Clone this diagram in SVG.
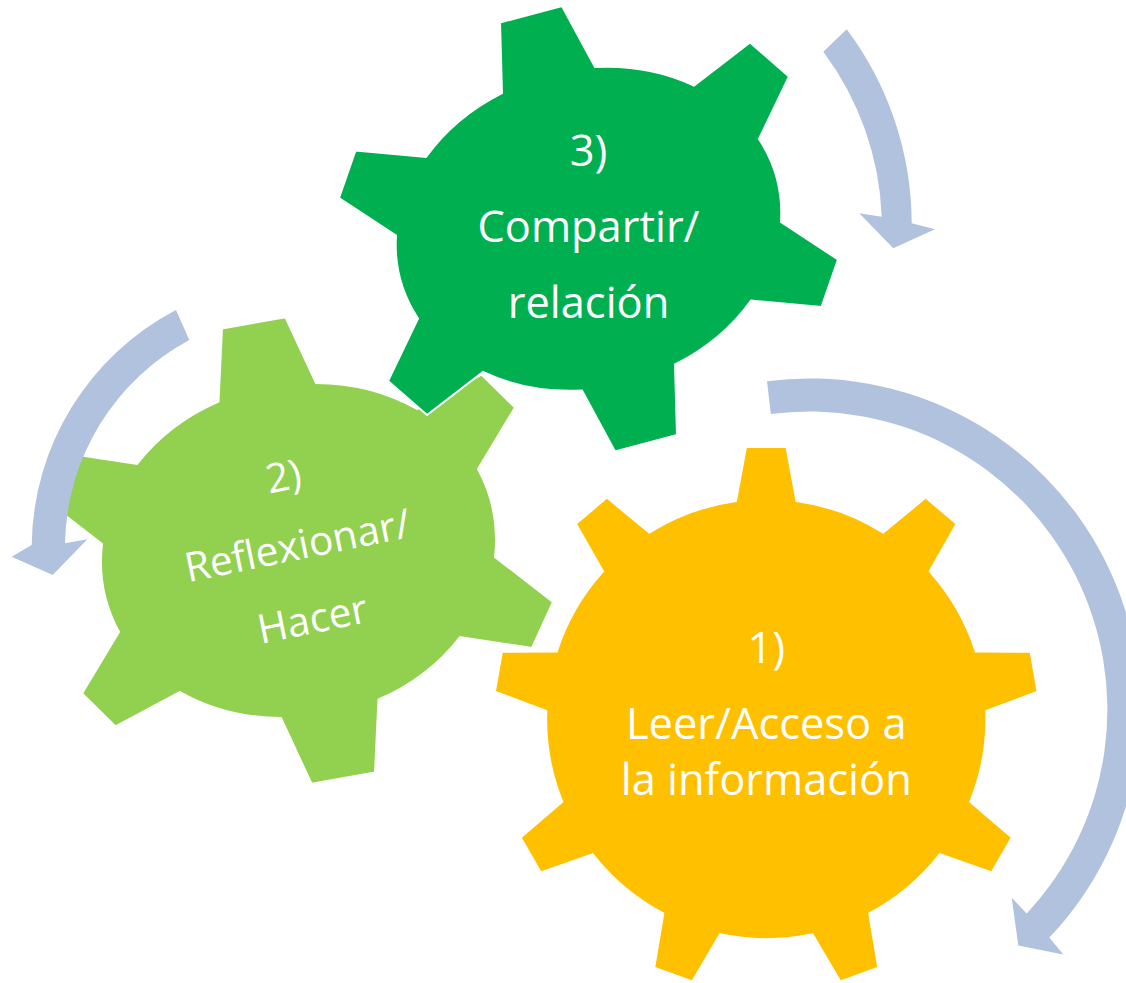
<svg xmlns="http://www.w3.org/2000/svg" width="1126" height="983" viewBox="0 0 1126 983">
<style>
.gear{stroke:#FFFFFF;stroke-width:2;stroke-linejoin:miter}
.g1{fill:#FFC000}
.g2{fill:#92D050}
.g3{fill:#00B050}
.arrow{fill:#B1C2DE;stroke:none}
.t{font-family:"Open Sans","Liberation Sans",sans-serif;fill:#FFFFFF;text-anchor:middle;font-size:43.4px}
.t2{font-size:40.6px}
</style>
<rect width="1126" height="983" fill="#FFFFFF"/>
<g id="gear1">
<path class="gear g1" d="M736,501 L746,447 L786.5,447 L796.5,501 A220,220 0 0 1 883.2,532.6 L925.6,497.6 L956.6,523.7 L929.6,571.4 A220,220 0 0 1 975.7,651.4 L1030.6,651.8 L1037.6,691.7 L986.2,710.9 A220,220 0 0 1 970.2,801.8 L1011.9,837.5 L991.7,872.5 L939.9,854.2 A220,220 0 0 1 869.2,913.5 L878.3,967.7 L840.3,981.5 L812.4,934.2 A220,220 0 0 1 720.1,934.2 L692.3,981.5 L654.2,967.7 L663.3,913.5 A220,220 0 0 1 592.6,854.2 L540.8,872.5 L520.6,837.5 L562.3,801.8 A220,220 0 0 1 546.3,710.9 L494.9,691.7 L501.9,651.8 L556.8,651.4 A220,220 0 0 1 603,571.4 L575.9,523.7 L606.9,497.6 L649.3,532.6 A220,220 0 0 1 736,501 Z"/>
<text class="t" x="766.25" y="663.3">1)</text>
<text class="t" x="766.25" y="739.3">Leer/Acceso a</text>
<text class="t" x="766.25" y="795">la información</text>
</g>
<g id="gear2">
<path class="gear g2" d="M218.5,401.5 L222,328.5 L285.5,317.25 L316,383 A197,170 -11 0 1 417,409 L481.5,374.5 L515,407.5 L478,469 A197,170 -11 0 1 495,557 L553,602 L532,648 L460,637 A197,170 -11 0 1 378.5,699.5 L375,772.5 L311.5,783.75 L281,718 A197,170 -11 0 1 180,692 L115.5,726.5 L82,693.5 L119,632 A197,170 -11 0 1 102,544 L44,499 L65,453 L137,464 A197,170 -11 0 1 218.5,401.5 Z"/>
<g transform="translate(298.5,550.5) rotate(-11.5)">
<text class="t t2" x="0" y="-61.5">2)</text>
<text class="t t2" x="0" y="9">Reflexionar/</text>
<text class="t t2" x="0" y="84">Hacer</text>
</g>
</g>
<g id="gear3">
<path class="gear g3" d="M502,93 L500,22.5 L562,6 L595,67 A195,161 -15 0 1 694,85.5 L750,42.5 L789,76.5 L759,139 A195,161 -15 0 1 781,222 L838,259.5 L821.5,307 L751,300.5 A195,161 -15 0 1 675,364.5 L677,435 L615,451.5 L582,390.5 A195,161 -15 0 1 483,372 L427,415 L388,381 L418,318.5 A195,161 -15 0 1 396,235.5 L339,198 L355.5,150.5 L426,157 A195,161 -15 0 1 502,93 Z"/>
<text class="t" x="588.5" y="165.7">3)</text>
<text class="t" x="588.5" y="241.7">Compartir/</text>
<text class="t" x="588.5" y="318.3">relación</text>
</g>
<g id="connectors">
<path id="arrow1" class="arrow" d="M767,381.2 A331,331 0 0 1 1049.3,937.6 L1063.3,954.4 L1018.3,945.4 L1011.7,897.7 L1026.7,913.4 A298,298 0 0 0 770.8,414 Z"/>
<path id="arrow3" class="arrow" d="M846.7,29.3 A325,325 0 0 1 911.7,223.3 L935,229.3 L893.3,248.3 L859.3,213.3 L881.7,216.7 A293,293 0 0 0 823.3,51.7 Z"/>
<path id="arrow2" class="arrow" d="M176,310 A269,269 0 0 0 31.7,545 L11.7,556.7 L52.7,575 L87.3,539.3 L65,543.3 A236,236 0 0 1 189.3,340 Z"/>
</g>
</svg>
